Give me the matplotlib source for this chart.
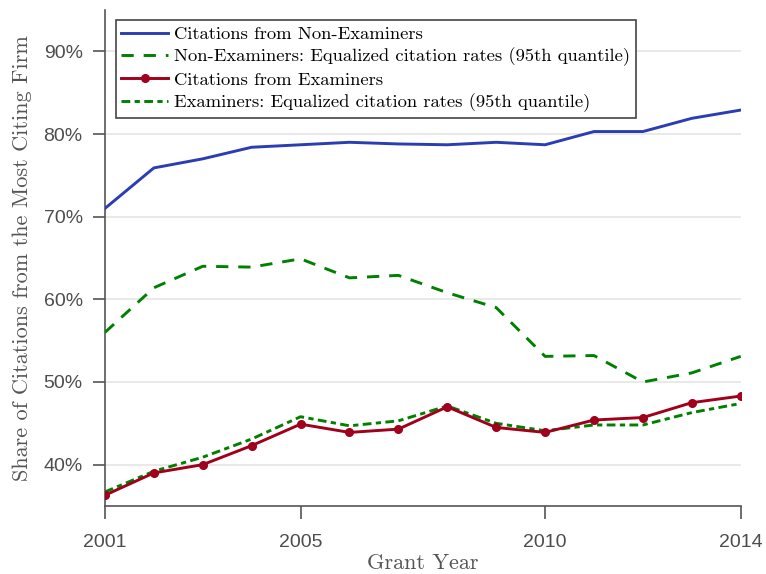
import matplotlib
matplotlib.use("Agg")
import matplotlib.pyplot as plt
from matplotlib.ticker import FuncFormatter

years = [2001, 2002, 2003, 2004, 2005, 2006, 2007, 2008, 2009, 2010, 2011, 2012, 2013, 2014]
non_examiners = [71.0, 75.9, 77.0, 78.4, 78.7, 79.0, 78.8, 78.7, 79.0, 78.7, 80.3, 80.3, 81.9, 82.9]
non_examiners_eq = [56.0, 61.4, 64.0, 63.9, 64.9, 62.6, 62.9, 60.8, 59.0, 53.1, 53.2, 50.0, 51.1, 53.1]
examiners = [36.3, 39.0, 40.0, 42.3, 44.9, 43.9, 44.3, 47.0, 44.5, 43.9, 45.4, 45.7, 47.5, 48.3]
examiners_eq = [36.7, 39.2, 40.9, 43.1, 45.8, 44.7, 45.3, 47.1, 45.0, 44.1, 44.8, 44.8, 46.3, 47.4]

labels = [
    "Citations from Non-Examiners",
    "Non-Examiners: Equalized citation rates (95th quantile)",
    "Citations from Examiners",
    "Examiners: Equalized citation rates (95th quantile)",
]
xticks = [2001, 2005, 2010, 2014]
yticks = [40, 50, 60, 70, 80, 90]

serif = "cmr10"
tick_color = "#4d4d4d"

fig = plt.figure(figsize=(7.66, 5.74), dpi=100)
ax = fig.add_axes([0.137, 0.1185, 0.830, 0.864])

blue = "#2b3db3"
green = "#008000"
red = "#a0001c"
lw = 2.1

ax.plot(years, [v / 100 for v in non_examiners], color=blue, lw=lw, label=labels[0], zorder=3)
ax.plot(years, [v / 100 for v in non_examiners_eq], color=green, lw=lw,
        linestyle=(0, (4.2, 3.4)), label=labels[1], zorder=3)
ax.plot(years, [v / 100 for v in examiners], color=red, lw=lw, marker="o", markersize=5.5,
        label=labels[2], zorder=4)
ax.plot(years, [v / 100 for v in examiners_eq], color=green, lw=lw,
        linestyle=(0, (3, 1.5, 1.8, 1.5)), label=labels[3], zorder=3)

ax.set_xlim(2001, 2014)
ax.set_ylim(0.35, 0.95)
ax.set_xticks(xticks)
ax.set_yticks([t / 100 for t in yticks])
ax.yaxis.set_major_formatter(FuncFormatter(lambda v, p: f"{v * 100:.0f}%"))

ax.grid(axis="y", color="#e3e3e3", lw=1.1, zorder=0)
ax.set_axisbelow(True)

for side in ("top", "right"):
    ax.spines[side].set_visible(False)
for side in ("left", "bottom"):
    ax.spines[side].set_color("#555555")
    ax.spines[side].set_linewidth(1.2)

ax.tick_params(axis="x", length=9, width=1.2, color="#555555", labelsize=14,
               labelcolor=tick_color, pad=11)
ax.tick_params(axis="y", length=9, width=1.2, color="#555555", labelsize=14,
               labelcolor=tick_color, pad=7)
for lab in ax.get_xticklabels() + ax.get_yticklabels():
    lab.set_family("Liberation Sans")

ax.set_xlabel("Grant Year", fontfamily=serif, fontsize=16, color="#555555", labelpad=2)
ax.set_ylabel("Share of Citations from the Most Citing Firm", fontfamily=serif,
              fontsize=16, color="#555555", labelpad=8)

leg = ax.legend(loc="upper left", bbox_to_anchor=(0.017, 0.979), prop={"family": serif, "size": 13.4},
                frameon=True, fancybox=False, edgecolor="#444444", framealpha=1,
                handlelength=2.5, handletextpad=0.35, borderpad=0.3, labelspacing=0.3,
                borderaxespad=0)
leg.get_frame().set_linewidth(1.2)

fig.savefig("out.png", dpi=100)
